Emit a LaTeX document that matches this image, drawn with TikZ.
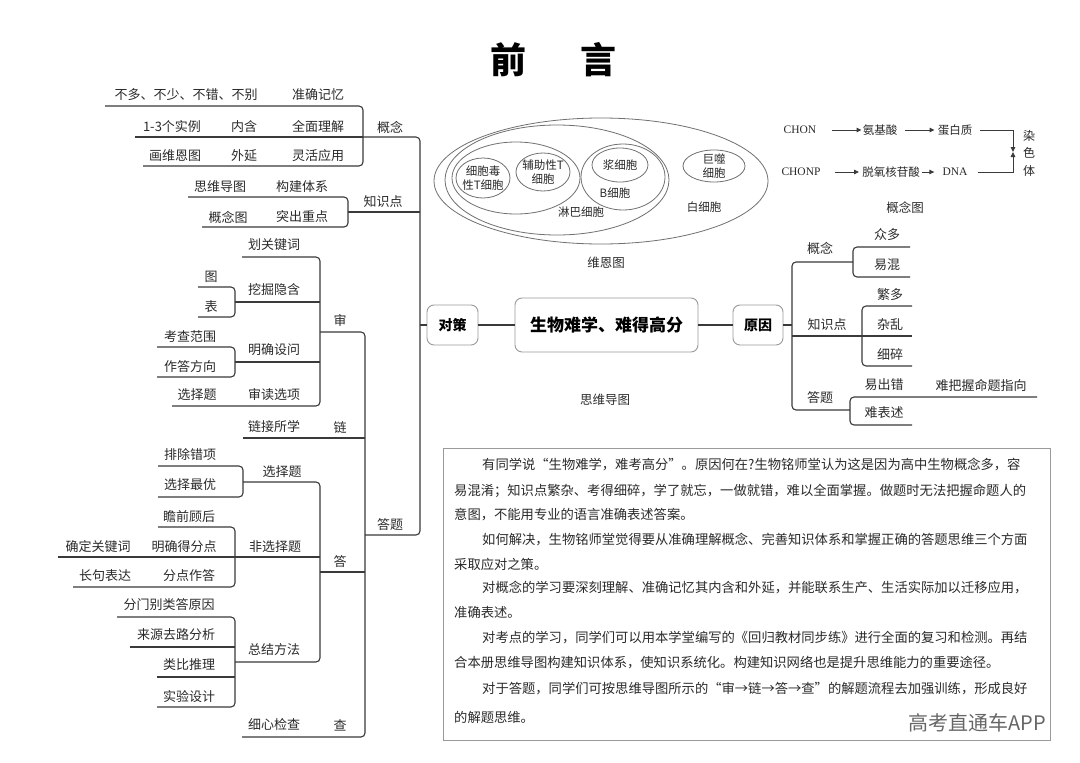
\documentclass[tikz,border=0pt]{standalone}
\usepackage{fontspec}
\setmainfont{Noto Sans CJK SC}
\newfontfamily\latin{Liberation Serif}
\usetikzlibrary{arrows.meta}

\definecolor{linec}{HTML}{3A3A3A}
\definecolor{venc}{HTML}{707070}
\definecolor{boxc}{HTML}{9A9A9A}
\definecolor{txtc}{HTML}{2A2A2A}

\tikzset{
  br/.style={draw=linec, line width=1.1pt, rounded corners=4pt},
  lbl/.style={inner sep=0pt, text=txtc, font=\fontsize{13}{15}\selectfont},
  vlbl/.style={inner sep=0pt, text=txtc, align=center, font=\fontsize{11.5}{14.5}\selectfont},
  ven/.style={draw=venc, line width=0.8pt},
  figcap/.style={inner sep=0pt, text=txtc, font=\fontsize{12.5}{14}\selectfont},
  hub/.style={draw=boxc, line width=0.9pt, rounded corners=7pt, inner sep=0pt, text=black, font=\bfseries\fontsize{14}{16}\selectfont},
  flowarr/.style={draw=linec, line width=0.9pt, -{Triangle[length=5pt,width=4.5pt]}},
  para/.style={anchor=west, inner sep=0pt, text=txtc, font=\fontsize{13.3}{15}\selectfont},
}

\begin{document}
\begin{tikzpicture}[x=1pt, y=-1pt]
  \useasboundingbox (0,0) rectangle (1080,763);
  \fill[white] (0,0) rectangle (1080,763);

  % title
  \node[font=\bfseries\fontsize{36}{40}\selectfont] (ttlA) at (508,60) {前};
  \node[font=\bfseries\fontsize{36}{40}\selectfont] (ttlB) at (598,60) {言};

  % centre
  \node[hub, minimum width=51pt, minimum height=40pt] (dc) at (452.5,325) {对策};
  \node[hub, minimum width=183pt, minimum height=54pt, font=\bfseries\fontsize{17}{19}\selectfont] (core) at (606.5,325) {生物难学、难得高分};
  \node[hub, minimum width=50pt, minimum height=40pt] (yy) at (758,325) {原因};
  \draw[br] (dc) -- (core);
  \draw[br] (core) -- (yy);
  \node[figcap] (mm) at (605,400) {思维导图};

  % left tree -- 概念
  \node[lbl] (gnA) at (186,95) {不多、不少、不错、不别};
  \node[lbl] (gnA2) at (318,95) {准确记忆};
  \node[lbl] (gnB) at (172,127) {1-3个实例};
  \node[lbl] (gnB1) at (244,127) {内含};
  \node[lbl] (gnB2) at (318,127) {全面理解};
  \node[lbl] (gnC) at (175,156) {画维恩图};
  \node[lbl] (gnC1) at (244,156) {外延};
  \node[lbl] (gnC2) at (318,156) {灵活应用};
  \node[lbl] (gn) at (390,127) {概念};
  \draw[br] (105,106) -- (363,106) -- (363,166) -- (143,166);
  \draw[br] (135,137) -- (363,137);

  % 知识点
  \node[lbl] (zsA) at (220,187) {思维导图};
  \node[lbl] (zsA1) at (302,187) {构建体系};
  \node[lbl] (zsB) at (228,217) {概念图};
  \node[lbl] (zsB1) at (302,217) {突出重点};
  \node[lbl] (zs) at (383,202) {知识点};
  \draw[br] (188,197) -- (348,197) -- (348,227) -- (202,227);
  \draw[br] (348,212) -- (420,212);

  % main left bus
  \coordinate (lbus) at (420,325);
  \draw[br] (363,137) -- (420,137) -- (420,535) -- (365,535);
  \draw[br] (dc) -- (lbus);

  % 审
  \node[lbl] (sA) at (274,245) {划关键词};
  \node[lbl] (sB) at (274,290) {挖掘隐含};
  \node[lbl] (sB1) at (211,277) {图};
  \node[lbl] (sB2) at (211,307) {表};
  \node[lbl] (sC) at (274,350) {明确设问};
  \node[lbl] (sC1) at (190,337) {考查范围};
  \node[lbl] (sC2) at (190,367) {作答方向};
  \node[lbl] (sD) at (274,395) {审读选项};
  \node[lbl] (sD1) at (197,395) {选择题};
  \node[lbl] (sh) at (340,320) {审};
  \draw[br] (242,257) -- (320,257) -- (320,406) -- (172,406);
  \draw[br] (235,302) -- (320,302);
  \draw[br] (235,362) -- (320,362);
  \draw[br] (198,287) -- (235,287) -- (235,317) -- (198,317);
  \draw[br] (157,347) -- (235,347) -- (235,377) -- (157,377);

  % 答题
  \node[lbl] (dt) at (390,525) {答题};
  \draw[br] (320,332) -- (365,332) -- (365,737) -- (242,737);

  % 链
  \node[lbl] (lA) at (274,427) {链接所学};
  \node[lbl] (lk) at (340,427) {链};
  \draw[br] (243,438) -- (365,438);

  % 答
  \node[lbl] (da) at (340,562) {答};
  \draw[br] (320,572) -- (365,572);
  \draw[br] (243,482) -- (320,482) -- (320,662) -- (235,662);
  \node[lbl] (xz) at (282,472) {选择题};
  \node[lbl] (xzA) at (190,455) {排除错项};
  \node[lbl] (xzB) at (190,485) {选择最优};
  \draw[br] (158,466) -- (243,466) -- (243,497) -- (158,497);
  \node[lbl] (fx) at (275,547) {非选择题};
  \node[lbl] (fxA) at (189,517) {瞻前顾后};
  \node[lbl] (fxB) at (184,547) {明确得分点};
  \node[lbl] (fxB1) at (98,547) {确定关键词};
  \node[lbl] (fxC) at (189,576) {分点作答};
  \node[lbl] (fxC1) at (105,576) {长句表达};
  \draw[br] (158,527) -- (235,527) -- (235,587) -- (73,587);
  \draw[br] (58,557) -- (320,557);
  \node[lbl] (zj) at (274,650) {总结方法};
  \node[lbl] (zjA) at (169,605) {分门别类答原因};
  \node[lbl] (zjB) at (176,635) {来源去路分析};
  \node[lbl] (zjC) at (189,665) {类比推理};
  \node[lbl] (zjD) at (189,697) {实验设计};
  \draw[br] (117,617) -- (235,617) -- (235,707) -- (157,707);
  \draw[br] (130,647) -- (235,647);
  \draw[br] (157,677) -- (235,677);

  % 查
  \node[lbl] (cA) at (274,725) {细心检查};
  \node[lbl] (ch) at (340,725) {查};

  % right tree -- 原因
  \coordinate (rbus) at (792,325);
  \draw[br] (yy) -- (rbus);
  \draw[br] (853,262) -- (792,262) -- (792,410) -- (850,410);
  \draw[br] (792,336) -- (862,336);
  \node[lbl] (ygn) at (820,248) {概念};
  \node[lbl] (ygnA) at (887,235) {众多};
  \node[lbl] (ygnB) at (887,265) {易混};
  \draw[br] (910,247) -- (853,247) -- (853,277) -- (910,277);
  \node[lbl] (yzs) at (827,325) {知识点};
  \node[lbl] (yzsA) at (890,295) {繁多};
  \node[lbl] (yzsB) at (890,325) {杂乱};
  \node[lbl] (yzsC) at (890,355) {细碎};
  \draw[br] (912,306) -- (862,306) -- (862,366) -- (912,366);
  \draw[br] (862,336) -- (912,336);
  \node[lbl] (ydt) at (820,398) {答题};
  \node[lbl] (ydtA) at (884,385) {易出错};
  \node[lbl] (ydtA1) at (981,385) {难把握命题指向};
  \node[lbl] (ydtB) at (884,413) {难表述};
  \draw[br] (1037,397) -- (850,397) -- (850,425) -- (912,425);

  % Venn
  \draw[ven] (601,181) ellipse [x radius=167, y radius=63];
  \draw[ven] (557,180) ellipse [x radius=112, y radius=55];
  \draw[ven] (516,178) ellipse [x radius=64, y radius=36];
  \draw[ven] (483,178) ellipse [x radius=27, y radius=20];
  \draw[ven] (543,172) ellipse [x radius=27, y radius=19];
  \draw[ven] (623,177) ellipse [x radius=42, y radius=33];
  \draw[ven] (620,165) ellipse [x radius=28, y radius=17];
  \draw[ven] (714,166) ellipse [x radius=31, y radius=16];
  \node[vlbl] (tc) at (483,178) {细胞毒\\性T细胞};
  \node[vlbl] (th) at (543,172) {辅助性T\\细胞};
  \node[vlbl] (jx) at (620,165) {浆细胞};
  \node[vlbl] (bx) at (615,193) {B细胞};
  \node[vlbl] (lb) at (581,212) {淋巴细胞};
  \node[vlbl] (js) at (714,166) {巨噬\\细胞};
  \node[vlbl] (bxb) at (704,207) {白细胞};
  \node[figcap] (wn) at (606,263) {维恩图};

  % concept map
  \node[vlbl, font=\latin\fontsize{11.5}{13}\selectfont] (chon) at (800,130) {CHON};
  \node[vlbl] (ajs) at (880,130) {氨基酸};
  \node[vlbl] (dbz) at (955,130) {蛋白质};
  \node[vlbl, font=\latin\fontsize{11.5}{13}\selectfont] (chonp) at (801,172) {CHONP};
  \node[vlbl] (txh) at (891,172) {脱氧核苷酸};
  \node[vlbl, font=\latin\fontsize{11.5}{13}\selectfont] (dna) at (955,172) {DNA};
  \node[vlbl, font=\fontsize{12}{17.5}\selectfont] (rst) at (1029,153) {染\\色\\体};
  \coordinate (jn) at (1013,152);
  \draw[flowarr] ([xshift=16pt]chon.east) -- ([xshift=-1pt]ajs.west);
  \draw[flowarr] ([xshift=8pt]ajs.east) -- ([xshift=-3pt]dbz.west);
  \draw[flowarr] ([xshift=14pt]chonp.east) -- ([xshift=-3pt]txh.west);
  \draw[flowarr] ([xshift=2pt]txh.east) -- ([xshift=-8pt]dna.west);
  \draw[flowarr] ([xshift=8pt]dbz.east) -| (jn);
  \draw[flowarr] ([xshift=10pt]dna.east) -| (jn);
  \node[figcap] (gnt) at (905,208) {概念图};

  % text box
  \draw[draw=boxc, line width=0.9pt] (443,448) rectangle (1050,740);
  \node[para] (p1) at (482,465) {有同学说“生物难学，难考高分”。原因何在?生物铭师堂认为这是因为高中生物概念多，容};
  \node[para] (p2) at (454,491) {易混淆；知识点繁杂、考得细碎，学了就忘，一做就错，难以全面掌握。做题时无法把握命题人的};
  \node[para] (p3) at (454,515) {意图，不能用专业的语言准确表述答案。};
  \node[para] (p4) at (482,540) {如何解决，生物铭师堂觉得要从准确理解概念、完善知识体系和掌握正确的答题思维三个方面};
  \node[para] (p5) at (454,564) {采取应对之策。};
  \node[para] (p6) at (482,588) {对概念的学习要深刻理解、准确记忆其内含和外延，并能联系生产、生活实际加以迁移应用，};
  \node[para] (p7) at (454,612) {准确表述。};
  \node[para] (p8) at (482,638) {对考点的学习，同学们可以用本学堂编写的《回归教材同步练》进行全面的复习和检测。再结};
  \node[para] (p9) at (454,663) {合本册思维导图构建知识体系，使知识系统化。构建知识网络也是提升思维能力的重要途径。};
  \node[para] (p10) at (482,689) {对于答题，同学们可按思维导图所示的“审→链→答→查”的解题流程去加强训练，形成良好};
  \node[para] (p11) at (454,717) {的解题思维。};
  \node[inner sep=0pt, text=black!60, font=\fontsize{20}{22}\selectfont] (wm) at (977,723) {高考直通车APP};
\end{tikzpicture}
\end{document}
